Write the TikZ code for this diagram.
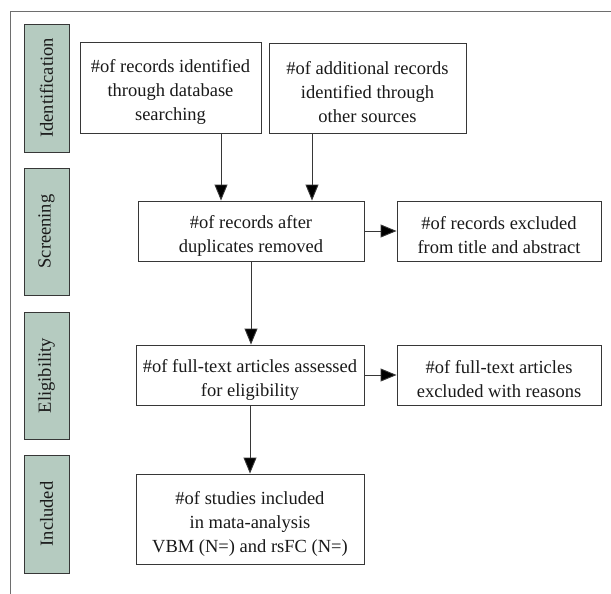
\documentclass[tikz,border=0pt]{standalone}
\usepackage{fontspec}
\setmainfont{Liberation Serif}
\usetikzlibrary{arrows.meta}
\definecolor{barfill}{RGB}{181,203,192}
\definecolor{linegray}{RGB}{55,55,55}
\definecolor{framegray}{RGB}{110,110,110}
\definecolor{txt}{RGB}{25,25,25}
\newcommand{\dropstrut}{\rule{0pt}{22pt}}
\begin{document}
\begin{tikzpicture}[x=1pt,y=-1pt,
  box/.style={draw=linegray, line width=0.9pt, align=center, inner sep=0pt,
    font=\fontsize{18.5}{24}\selectfont, text=txt},
  bar/.style={draw=linegray, fill=barfill, line width=0.9pt, rotate=90,
    inner sep=0pt, minimum height=45pt,
    font=\fontsize{18.5}{24}\selectfont, text=txt},
  arr/.style={draw=linegray, line width=0.9pt, -{Triangle[length=16pt,width=13pt,fill=black]}}]
\useasboundingbox (0,0) rectangle (611,594);
% outer frame
\draw[framegray, line width=0.9pt] (10,594) -- (10,11) -- (611,11);
% side bars
\node[bar, minimum width=128pt] (s1) at (46.5,88) {Identification};
\node[bar, minimum width=127pt] (s2) at (46.5,231.5) {Screening};
\node[bar, minimum width=127pt] (s3) at (46.5,375.5) {Eligibility};
\node[bar, minimum width=118pt] (s4) at (46.5,514) {Included};
% boxes
\node[box, minimum width=181pt, minimum height=91pt] (b1) at (170.5,87.5)
  {\dropstrut\#of records identified\\through database\\searching};
\node[box, minimum width=197pt, minimum height=90pt] (b2) at (367.5,88)
  {\dropstrut\#of additional records\\identified through\\other sources};
\node[box, minimum width=226pt, minimum height=60pt] (b3) at (251,231)
  {\dropstrut\#of records after\\duplicates removed};
\node[box, minimum width=204pt, minimum height=60pt] (b4) at (499,231)
  {\dropstrut\#of records excluded\\from title and abstract};
\node[box, minimum width=228pt, minimum height=60pt] (b5) at (250,375)
  {\dropstrut\#of full-text articles assessed\\for eligibility};
\node[box, minimum width=204pt, minimum height=60pt] (b6) at (499,375)
  {\dropstrut\#of full-text articles\\excluded with reasons};
\node[box, minimum width=228pt, minimum height=90pt] (b7) at (250,519)
  {\dropstrut\#of studies included\\in mata-analysis\\VBM (N=) and rsFC (N=)};
% connectors
\draw[arr] ([xshift=50.5pt]b1.south) -- ([xshift=50.5pt]b1.south |- b3.north);
\draw[arr] ([xshift=-55.5pt]b2.south) -- ([xshift=-55.5pt]b2.south |- b3.north);
\draw[arr] (b3.east) -- (b4.west);
\draw[arr] (b3.south) -- (b3.south |- b5.north);
\draw[arr] (b5.east) -- (b6.west);
\draw[arr] (b5.south) -- (b7.north);
\end{tikzpicture}
\end{document}
